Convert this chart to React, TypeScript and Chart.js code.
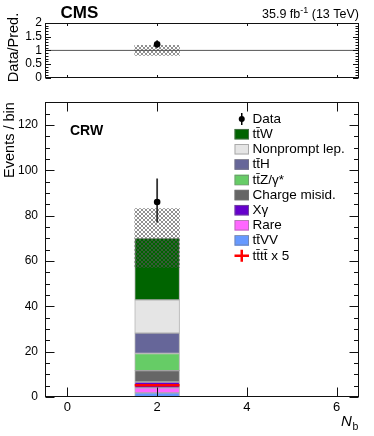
import React, { useEffect, useRef } from 'react';
import { Chart, registerables } from 'chart.js';
Chart.register(...registerables);

// ---------------- data ----------------
const nbBins = ['0', '1', '2', '3', '4', '5', '6'];
const dataObs = [0, 0, 86, 0, 0, 0, 0];
const dataErrLow = [0, 0, 9.1, 0, 0, 0, 0];
const dataErrHigh = [0, 0, 10.3, 0, 0, 0, 0];
const ttW = [0, 0, 27.3, 0, 0, 0, 0];
const nonprompt = [0, 0, 14.6, 0, 0, 0, 0];
const ttH = [0, 0, 9.0, 0, 0, 0, 0];
const ttZ = [0, 0, 7.6, 0, 0, 0, 0];
const chargeMisid = [0, 0, 5.0, 0, 0, 0, 0];
const xGamma = [0, 0, 2.6, 0, 0, 0, 0];
const rare = [0, 0, 2.15, 0, 0, 0, 0];
const ttVV = [0, 0, 1.85, 0, 0, 0, 0];
const tttt5 = [0, 0, 5.2, 0, 0, 0, 0];
const predUnc = [0, 0, 13, 0, 0, 0, 0];
const yTicksMain = [0, 20, 40, 60, 80, 100, 120];
const yTicksRatio = [0, 0.5, 1, 1.5, 2];
const xTickLabels = ['0', '2', '4', '6'];

const FONT = '"Liberation Sans", Arial, Helvetica, sans-serif';

// stack order bottom -> top
const processes = [
  { label: 'tt\u0304VV', values: ttVV, color: '#6699ff' },
  { label: 'Rare', values: rare, color: '#ff66ff' },
  { label: 'X\u03b3', values: xGamma, color: '#6600cc' },
  { label: 'Charge misid.', values: chargeMisid, color: '#666666' },
  { label: 'tt\u0304Z/\u03b3*', values: ttZ, color: '#66cc66' },
  { label: 'tt\u0304H', values: ttH, color: '#666699' },
  { label: 'Nonprompt lep.', values: nonprompt, color: '#e5e5e5' },
  { label: 'tt\u0304W', values: ttW, color: '#006400' },
];
const BAR_BORDER = 'rgba(120,120,120,0.55)';

function makePattern(): CanvasPattern | string {
  const c = document.createElement('canvas');
  c.width = 4;
  c.height = 4;
  const g = c.getContext('2d');
  if (!g) return 'rgba(100,100,100,0.5)';
  g.fillStyle = 'rgba(85,85,85,0.65)';
  const pts = [[0, 0], [3, 0], [1, 1], [2, 1], [1, 2], [2, 2], [0, 3], [3, 3]];
  pts.forEach(([x, y]) => g.fillRect(x, y, 1, 1));
  const p = g.createPattern(c, 'repeat');
  return p || 'rgba(100,100,100,0.5)';
}

function totals(): number[] {
  return nbBins.map((_, i) => processes.reduce((s, p) => s + p.values[i], 0));
}

type FrameCfg = {
  yMin: number; yMax: number; yMinorStep: number; yMajorStep: number;
  yMajorLen: number; yMinorLen: number; xLen: number;
};

function framePlugin(cfg: FrameCfg) {
  return {
    id: 'frameTicks',
    afterDatasetsDraw(chart: any) {
      const { ctx, chartArea: a } = chart;
      const ys = chart.scales.y;
      const xs = chart.scales.xl;
      const L = Math.round(a.left) + 0.5;
      const R = Math.round(a.right) - 0.5;
      const T = Math.round(a.top) + 0.5;
      const B = Math.round(a.bottom) - 0.5;
      ctx.save();
      ctx.strokeStyle = '#111';
      ctx.lineWidth = 1;
      ctx.beginPath();
      const n = Math.round((cfg.yMax - cfg.yMin) / cfg.yMinorStep);
      for (let k = 0; k <= n; k++) {
        const v = cfg.yMin + k * cfg.yMinorStep;
        const major = Math.abs(v / cfg.yMajorStep - Math.round(v / cfg.yMajorStep)) < 1e-6;
        const len = major ? cfg.yMajorLen : cfg.yMinorLen;
        const py = Math.round(ys.getPixelForValue(v)) + 0.5;
        ctx.moveTo(L, py); ctx.lineTo(L + len, py);
        ctx.moveTo(R, py); ctx.lineTo(R - len, py);
      }
      xTickLabels.forEach((lab) => {
        const px = Math.round(xs.getPixelForValue(Number(lab))) + 0.5;
        ctx.moveTo(px, B); ctx.lineTo(px, B - cfg.xLen);
        ctx.moveTo(px, T); ctx.lineTo(px, T + cfg.xLen);
      });
      ctx.stroke();
      ctx.strokeRect(L, T, R - L, B - T);
      ctx.restore();
    },
  };
}

function errorBarPoints(center: number[], lo: number[], hi: number[], scale: number[]) {
  const pts: any[] = [];
  nbBins.forEach((b, i) => {
    if (center[i] > 0 && scale[i] > 0) {
      const x = Number(b);
      pts.push({ x, y: (center[i] - lo[i]) / scale[i] });
      pts.push({ x, y: (center[i] + hi[i]) / scale[i] });
      pts.push({ x, y: null });
    }
  });
  return pts;
}

function MainChart() {
  const ref = useRef<HTMLCanvasElement>(null);
  useEffect(() => {
    if (!ref.current) return;
    const pattern = makePattern();
    const tot = totals();
    const cum = nbBins.map(() => 0);
    const barSets: any[] = processes.map((p) => {
      const data = nbBins.map((_, i) => {
        const lo = cum[i];
        cum[i] += p.values[i];
        return p.values[i] > 0 ? [lo, cum[i]] : null;
      });
      return {
        type: 'bar', label: p.label, data,
        backgroundColor: p.color, borderColor: BAR_BORDER, borderWidth: 1,
        borderSkipped: false, grouped: false, barPercentage: 1, categoryPercentage: 1,
        xAxisID: 'x', yAxisID: 'y', order: 5,
      };
    });
    const uncSet = {
      type: 'bar', label: 'unc',
      data: nbBins.map((_, i) => (predUnc[i] > 0 ? [tot[i] - predUnc[i], tot[i] + predUnc[i]] : null)),
      backgroundColor: pattern, borderWidth: 0, grouped: false,
      barPercentage: 1, categoryPercentage: 1, xAxisID: 'x', yAxisID: 'y', order: 3,
    };
    const ttttPts: any[] = [];
    nbBins.forEach((b, i) => {
      if (tttt5[i] > 0) {
        ttttPts.push({ x: Number(b) - 0.5, y: tttt5[i] });
        ttttPts.push({ x: Number(b) + 0.5, y: tttt5[i] });
        ttttPts.push({ x: Number(b) + 0.5, y: null });
      }
    });
    const ttttSet = {
      type: 'line', label: 'tt\u0304tt\u0304 x 5', data: ttttPts, borderColor: '#ff0000',
      borderWidth: 2.5, pointRadius: 0, spanGaps: false, xAxisID: 'xl', yAxisID: 'y', order: 2,
    };
    const ones = nbBins.map(() => 1);
    const errSet = {
      type: 'line', label: 'dataErr', data: errorBarPoints(dataObs, dataErrLow, dataErrHigh, ones),
      borderColor: '#333', borderWidth: 1.8, pointRadius: 0, spanGaps: false,
      xAxisID: 'xl', yAxisID: 'y', order: 1,
    };
    const dataSet = {
      type: 'line', label: 'Data',
      data: nbBins.map((b, i) => (dataObs[i] > 0 ? { x: Number(b), y: dataObs[i] } : null)).filter(Boolean),
      showLine: false, pointRadius: 3.3, pointBackgroundColor: '#000', pointBorderWidth: 0,
      xAxisID: 'xl', yAxisID: 'y', order: 0,
    };

    const legendPlugin = {
      id: 'legendTexts',
      afterDraw(chart: any) {
        const ctx = chart.ctx;
        ctx.save();
        const bx = 234.5, bw = 14.5, bh = 10.5, tx = 252.5, y0 = 31, dy = 15.2;
        ctx.font = `13.5px ${FONT}`;
        ctx.textBaseline = 'middle';
        ctx.fillStyle = '#000';
        // Data
        ctx.strokeStyle = '#000';
        ctx.lineWidth = 1.5;
        ctx.beginPath();
        ctx.moveTo(bx + bw / 2, y0 - 6); ctx.lineTo(bx + bw / 2, y0 + 6); ctx.stroke();
        ctx.beginPath(); ctx.arc(bx + bw / 2, y0, 3, 0, Math.PI * 2); ctx.fill();
        ctx.fillText('Data', tx, y0);
        const items = [...processes].reverse();
        items.forEach((p, k) => {
          const cy = y0 + dy * (k + 1);
          ctx.fillStyle = p.color;
          ctx.fillRect(bx, cy - bh / 2, bw, bh);
          ctx.strokeStyle = BAR_BORDER;
          ctx.lineWidth = 1;
          ctx.strokeRect(bx + 0.5, Math.round(cy - bh / 2) + 0.5, bw - 1, bh - 1);
          ctx.fillStyle = '#000';
          ctx.fillText(p.label, tx, cy);
        });
        const cy = y0 + dy * (items.length + 1);
        ctx.strokeStyle = '#ff0000';
        ctx.lineWidth = 2.5;
        ctx.beginPath();
        ctx.moveTo(bx, cy); ctx.lineTo(bx + bw, cy);
        ctx.moveTo(bx + bw / 2, cy - 6); ctx.lineTo(bx + bw / 2, cy + 6);
        ctx.stroke();
        ctx.fillStyle = '#000';
        ctx.fillText('tt\u0304tt\u0304 x 5', tx, cy);
        // CRW
        ctx.textBaseline = 'alphabetic';
        ctx.font = `bold 14px ${FONT}`;
        ctx.fillText('CRW', 70, 47);
        // y title
        ctx.save();
        ctx.translate(13.5, 52);
        ctx.rotate(-Math.PI / 2);
        ctx.textAlign = 'center';
        ctx.textBaseline = 'alphabetic';
        ctx.font = `14.5px ${FONT}`;
        ctx.fillText('Events / bin', 0, 0);
        ctx.restore();
        // x title
        ctx.font = `italic 15px ${FONT}`;
        ctx.fillText('N', 341, 338);
        ctx.font = `10.5px ${FONT}`;
        ctx.fillText('b', 352.5, 342);
        ctx.restore();
      },
    };

    const chart = new Chart(ref.current, {
      type: 'bar',
      data: { labels: nbBins, datasets: [dataSet, errSet, ttttSet, uncSet, ...barSets] as any },
      options: {
        animation: false, responsive: false, maintainAspectRatio: false, devicePixelRatio: 1,
        events: [],
        layout: { padding: { left: 0, right: 15, top: 6, bottom: 0 } },
        plugins: { legend: { display: false }, tooltip: { enabled: false } },
        scales: {
          x: {
            type: 'category', offset: true,
            grid: { display: false, drawTicks: false }, border: { display: false },
            ticks: {
              autoSkip: false, maxRotation: 0, padding: 3, color: '#000',
              font: { family: FONT, size: 13 },
              callback: function (this: any, v: any) {
                const l = this.getLabelForValue(v);
                return xTickLabels.includes(l) ? l : '';
              },
            },
            afterFit: (s: any) => { s.height = 39; },
          },
          xl: { type: 'linear', min: -0.5, max: 6.5, offset: false, display: false, grid: { offset: false } },
          y: {
            type: 'linear', min: 0, max: 130, position: 'left',
            grid: { display: false, drawTicks: false }, border: { display: false },
            ticks: { autoSkip: false, padding: 7, color: '#000', font: { family: FONT, size: 12 }, callback: (v: any) => String(v) },
            afterBuildTicks: (s: any) => { s.ticks = yTicksMain.map((v) => ({ value: v })); },
            afterFit: (s: any) => { s.width = 45; },
          },
        },
      } as any,
      plugins: [
        framePlugin({ yMin: 0, yMax: 130, yMinorStep: 5, yMajorStep: 20, yMajorLen: 9, yMinorLen: 4.5, xLen: 9 }),
        legendPlugin,
      ],
    });
    return () => chart.destroy();
  }, []);
  return <canvas ref={ref} width={374} height={348} style={{ position: 'absolute', left: 0, top: 88, display: 'block' }} />;
}

function RatioChart() {
  const ref = useRef<HTMLCanvasElement>(null);
  useEffect(() => {
    if (!ref.current) return;
    const pattern = makePattern();
    const tot = totals();
    const bandSet = {
      type: 'bar', label: 'unc',
      data: nbBins.map((_, i) => (predUnc[i] > 0 && tot[i] > 0 ? [1 - predUnc[i] / tot[i], 1 + predUnc[i] / tot[i]] : null)),
      backgroundColor: pattern, borderWidth: 0, grouped: false, barPercentage: 1, categoryPercentage: 1,
      xAxisID: 'x', yAxisID: 'y', order: 3,
    };
    const lineSet = {
      type: 'line', label: 'one', data: [{ x: -0.5, y: 1 }, { x: 6.5, y: 1 }],
      borderColor: '#555', borderWidth: 1, pointRadius: 0, xAxisID: 'xl', yAxisID: 'y', order: 4,
    };
    const errSet = {
      type: 'line', label: 'ratioErr', data: errorBarPoints(dataObs, dataErrLow, dataErrHigh, tot),
      borderColor: '#333', borderWidth: 1.8, pointRadius: 0, spanGaps: false,
      xAxisID: 'xl', yAxisID: 'y', order: 1,
    };
    const ptSet = {
      type: 'line', label: 'ratio',
      data: nbBins.map((b, i) => (dataObs[i] > 0 && tot[i] > 0 ? { x: Number(b), y: dataObs[i] / tot[i] } : null)).filter(Boolean),
      showLine: false, pointRadius: 3.3, pointBackgroundColor: '#000', pointBorderWidth: 0,
      xAxisID: 'xl', yAxisID: 'y', order: 0,
    };
    const textPlugin = {
      id: 'topTexts',
      afterDraw(chart: any) {
        const ctx = chart.ctx;
        ctx.save();
        ctx.fillStyle = '#000';
        ctx.textBaseline = 'alphabetic';
        ctx.font = `bold 17px ${FONT}`;
        ctx.fillText('CMS', 60.5, 18);
        const fa = `12.5px ${FONT}`, fs = `9px ${FONT}`;
        const a = '35.9 fb', sup = '-1', b = ' (13 TeV)';
        ctx.font = fa; const wa = ctx.measureText(a).width; const wb = ctx.measureText(b).width;
        ctx.font = fs; const ws = ctx.measureText(sup).width;
        let x = 359 - (wa + ws + wb);
        ctx.font = fa; ctx.fillText(a, x, 18); x += wa;
        ctx.font = fs; ctx.fillText(sup, x, 13); x += ws;
        ctx.font = fa; ctx.fillText(b, x, 18);
        ctx.save();
        ctx.translate(17.5, 47.5);
        ctx.rotate(-Math.PI / 2);
        ctx.textAlign = 'center';
        ctx.font = `14.5px ${FONT}`;
        ctx.fillText('Data/Pred.', 0, 0);
        ctx.restore();
        ctx.restore();
      },
    };
    const chart = new Chart(ref.current, {
      type: 'bar',
      data: { labels: nbBins, datasets: [ptSet, errSet, bandSet, lineSet] as any },
      options: {
        animation: false, responsive: false, maintainAspectRatio: false, devicePixelRatio: 1,
        events: [],
        layout: { padding: { left: 0, right: 15, top: 23, bottom: 6 } },
        plugins: { legend: { display: false }, tooltip: { enabled: false } },
        scales: {
          x: { type: 'category', offset: true, display: false },
          xl: { type: 'linear', min: -0.5, max: 6.5, offset: false, display: false, grid: { offset: false } },
          y: {
            type: 'linear', min: 0, max: 2, position: 'left',
            grid: { display: false, drawTicks: false }, border: { display: false },
            ticks: { autoSkip: false, padding: 3, color: '#000', font: { family: FONT, size: 12 }, callback: (v: any) => String(v) },
            afterBuildTicks: (s: any) => { s.ticks = yTicksRatio.map((v) => ({ value: v })); },
            afterFit: (s: any) => { s.width = 45; },
          },
        },
      } as any,
      plugins: [
        framePlugin({ yMin: 0, yMax: 2, yMinorStep: 0.1, yMajorStep: 0.5, yMajorLen: 5.5, yMinorLen: 3, xLen: 2.5 }),
        textPlugin,
      ],
    });
    return () => chart.destroy();
  }, []);
  return <canvas ref={ref} width={374} height={88} style={{ position: 'absolute', left: 0, top: 0, display: 'block' }} />;
}

export default function App() {
  return (
    <div style={{ position: 'fixed', left: 0, top: 0, width: 374, height: 436, background: '#fff' }}>
      <RatioChart />
      <MainChart />
    </div>
  );
}
